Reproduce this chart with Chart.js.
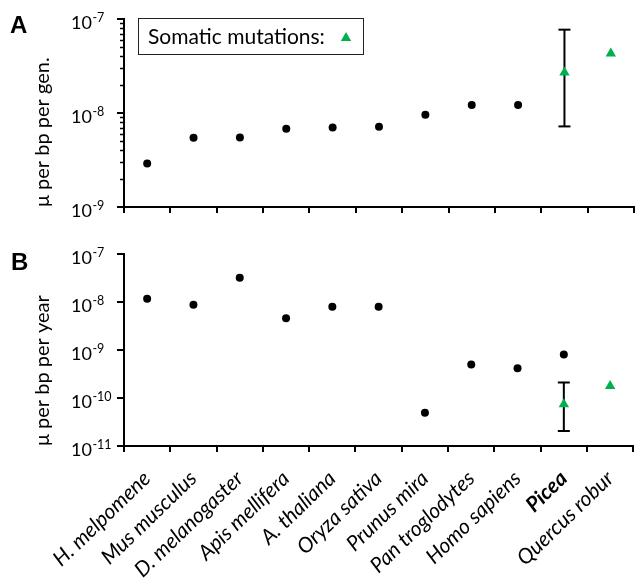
<!DOCTYPE html>
<html>
<head>
<meta charset="utf-8">
<script src="https://cdn.jsdelivr.net/npm/chart.js@4"></script>
<style>
  html, body { margin: 0; padding: 0; background: #fff; }
  #wrap { position: relative; width: 642px; height: 586px; }
  #boxA { position: absolute; left: 0; top: 0; width: 642px; height: 225px; }
  #boxB { position: absolute; left: 0; top: 225px; width: 642px; height: 361px; }
</style>
</head>
<body>
<div id="wrap">
  <div id="boxA"><canvas id="chartA"></canvas></div>
  <div id="boxB"><canvas id="chartB"></canvas></div>
</div>
<script>
const categories = ['H. melpomene', 'Mus musculus', 'D. melanogaster', 'Apis mellifera', 'A. thaliana',
  'Oryza sativa', 'Prunus mira', 'Pan troglodytes', 'Homo sapiens', 'Picea', 'Quercus robur'];
const boldCategories = ['Picea'];

// A: per generation
const germlinePerGen = [2.9e-9, 5.45e-9, 5.5e-9, 6.8e-9, 7.0e-9, 7.15e-9, 9.6e-9, 1.22e-8, 1.22e-8, null, null];
const somaticPerGen = [null, null, null, null, null, null, null, null, null, 2.7e-8, 4.3e-8];
const errPerGen = [7.2e-9, 7.7e-8];

// B: per year
const germlinePerYear = [1.17e-8, 8.8e-9, 3.2e-8, 4.6e-9, 8.0e-9, 8.0e-9, 4.9e-11, 5.0e-10, 4.15e-10, 8.1e-10, null];
const somaticPerYear = [null, null, null, null, null, null, null, null, null, 7.4e-11, 1.78e-10];
const errPerYear = [2.05e-11, 2.1e-10];

const errCategory = 'Picea';

// y ticks: value, base, exponent
const tickValsA = [1e-9, 1e-8, 1e-7];
const tickExpA = ['-9', '-8', '-7'];
const minorTicksA = [2e-9, 3e-9, 4e-9, 5e-9, 6e-9, 7e-9, 8e-9, 9e-9, 2e-8, 3e-8, 4e-8, 5e-8, 6e-8, 7e-8, 8e-8, 9e-8];
const tickValsB = [1e-11, 1e-10, 1e-9, 1e-8, 1e-7];
const tickExpB = ['-11', '-10', '-9', '-8', '-7'];

const FONT = 'Lato, "Open Sans", sans-serif';
const GREEN = '#00b050';

const extras = {
  id: 'extras',
  afterDraw(chart, args, opts) {
    const ctx = chart.ctx;
    const y = chart.scales.y;
    ctx.save();
    // panel letter
    ctx.fillStyle = '#000';
    ctx.font = 'bold 24px "Liberation Sans", Arial, sans-serif';
    ctx.textBaseline = 'alphabetic';
    ctx.textAlign = 'left';
    ctx.fillText(opts.letter, opts.letterX, opts.letterY);
    // power-of-ten tick labels
    opts.tickVals.forEach((v, i) => {
      const py = y.getPixelForValue(v);
      ctx.font = '18px ' + FONT;
      ctx.fillText('10', 71, py + 9.5);
      const w = ctx.measureText('10').width;
      ctx.font = '12.5px ' + FONT;
      ctx.fillText(opts.tickExp[i], 71 + w + 0.5, py + 3);
    });
    // minor ticks
    if (opts.minor) {
      ctx.strokeStyle = '#000';
      ctx.lineWidth = 1.5;
      opts.minor.forEach(v => {
        const py = Math.round(y.getPixelForValue(v)) + 0.5;
        ctx.beginPath();
        ctx.moveTo(y.right - 4, py);
        ctx.lineTo(y.right, py);
        ctx.stroke();
      });
    }
    // legend box
    if (opts.legend) {
      ctx.strokeStyle = '#222';
      ctx.lineWidth = 1;
      ctx.strokeRect(138.5, 18.5, 225, 36);
      ctx.font = '21px ' + FONT;
      ctx.textBaseline = 'middle';
      ctx.fillStyle = '#000';
      ctx.fillText('Somatic mutations:', 148, 37);
      ctx.fillStyle = GREEN;
      Chart.helpers.drawPoint(ctx, {pointStyle: 'triangle', radius: 6, borderWidth: 0, rotation: 0}, 346, 38);
    }
    ctx.restore();
  }
};

function makeChart(id, germ, som, err, yMin, yMax, tickVals, title, showLabels, extraOpts, padTop, xHeight) {
  const ctx = document.getElementById(id).getContext('2d');
  return new Chart(ctx, {
    type: 'line',
    data: {
      labels: categories,
      datasets: [
        {
          label: 'germline',
          data: germ,
          showLine: false,
          pointStyle: 'circle',
          pointRadius: 4,
          pointBackgroundColor: '#000',
          pointBorderWidth: 0,
          order: 2
        },
        {
          label: 'somatic',
          data: som,
          showLine: false,
          pointStyle: 'triangle',
          pointRadius: 6,
          pointBackgroundColor: GREEN,
          pointBorderWidth: 0,
          order: 1
        },
        {
          label: 'error',
          data: [{x: errCategory, y: err[0]}, {x: errCategory, y: err[1]}],
          showLine: true,
          borderColor: '#000',
          borderWidth: 2,
          pointStyle: 'line',
          pointRadius: 6,
          pointBorderColor: '#000',
          pointBorderWidth: 2,
          order: 3
        }
      ]
    },
    options: {
      responsive: true,
      maintainAspectRatio: false,
      animation: false,
      layout: { padding: { top: padTop, right: 1, left: 0, bottom: 0 } },
      plugins: {
        legend: { display: false },
        tooltip: { enabled: false },
        extras: extraOpts
      },
      scales: {
        x: {
          type: 'category',
          offset: true,
          grid: { offset: true, drawOnChartArea: false, drawTicks: true, tickLength: 6, color: '#000', lineWidth: 2 },
          border: { display: true, color: '#000', width: 2 },
          ticks: {
            display: showLabels,
            autoSkip: false,
            maxRotation: 44,
            minRotation: 44,
            padding: 14,
            color: '#000',
            font: (c) => ({
              family: FONT,
              size: 21,
              style: 'italic',
              weight: (c.tick && boldCategories.includes(c.tick.label)) ? 'bold' : 'normal'
            })
          },
          afterFit: (s) => { s.height = xHeight; }
        },
        y: {
          type: 'logarithmic',
          min: yMin,
          max: yMax,
          afterBuildTicks: (s) => { s.ticks = tickVals.map(v => ({value: v})); },
          grid: { drawOnChartArea: false, drawTicks: true, tickLength: 7, color: '#000', lineWidth: 2 },
          border: { display: true, color: '#000', width: 2 },
          ticks: { display: false },
          title: {
            display: true,
            text: title,
            align: 'start',
            color: '#000',
            font: { family: FONT, size: 20 },
            padding: { top: 31, bottom: 0 }
          },
          afterFit: (s) => { s.width = 124; }
        }
      }
    },
    plugins: [extras]
  });
}

makeChart('chartA', germlinePerGen, somaticPerGen, errPerGen, 1e-9, 1e-7, tickValsA,
  'μ per bp per gen.', false,
  { letter: 'A', letterX: 10, letterY: 33, tickVals: tickValsA, tickExp: tickExpA, minor: minorTicksA, legend: true }, 19, 18);

makeChart('chartB', germlinePerYear, somaticPerYear, errPerYear, 1e-11, 1e-7, tickValsB,
  'μ per bp per year', true,
  { letter: 'B', letterX: 11, letterY: 45, tickVals: tickValsB, tickExp: tickExpB, minor: null, legend: false }, 29, 140);
</script>
</body>
</html>
